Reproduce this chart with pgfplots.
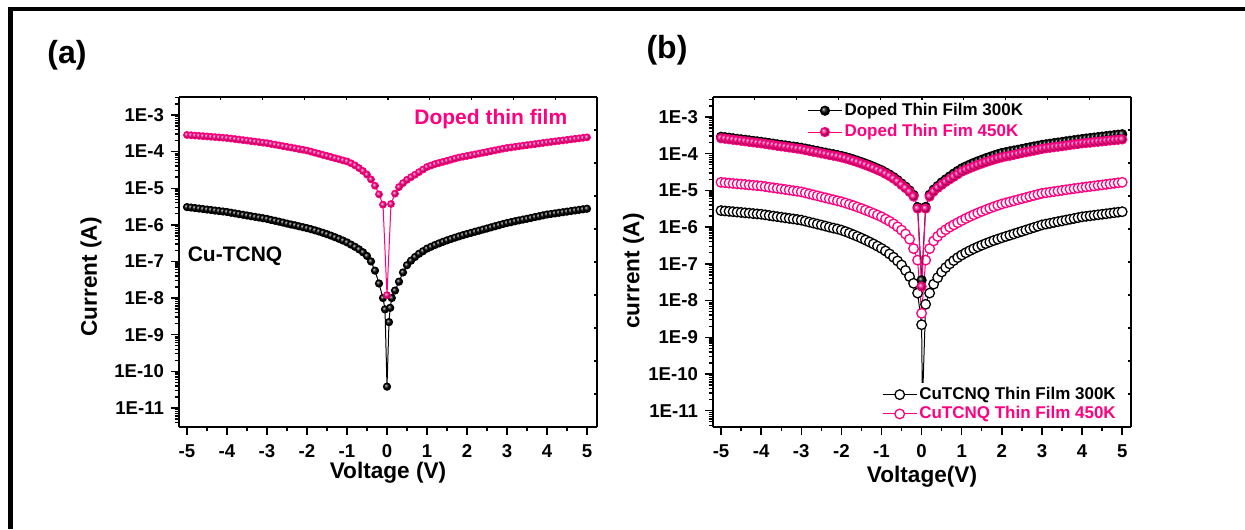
\documentclass[border=0pt]{standalone}
\usepackage{fontspec}
\setmainfont{Liberation Sans}
\usepackage{pgfplots}
\usepackage{pgfplotstable}
\pgfplotsset{compat=1.18}
\definecolor{pk}{RGB}{255,0,128}

% ---------------- data (a) ----------------
\pgfplotstableread[row sep=\\]{V I\\
-5.0 3.05e-6\\ -4.9 2.96e-6\\ -4.8 2.87e-6\\ -4.7 2.78e-6\\ -4.6 2.70e-6\\ -4.5 2.61e-6\\ -4.4 2.54e-6\\ -4.3 2.45e-6\\ -4.2 2.38e-6\\ -4.1 2.31e-6\\
-4.0 2.24e-6\\ -3.9 2.14e-6\\ -3.8 2.05e-6\\ -3.7 1.96e-6\\ -3.6 1.88e-6\\ -3.5 1.80e-6\\ -3.4 1.72e-6\\ -3.3 1.65e-6\\ -3.2 1.58e-6\\ -3.1 1.51e-6\\
-3.0 1.45e-6\\ -2.9 1.36e-6\\ -2.8 1.29e-6\\ -2.7 1.22e-6\\ -2.6 1.15e-6\\ -2.5 1.08e-6\\ -2.4 1.02e-6\\ -2.3 9.7e-7\\ -2.2 9.1e-7\\ -2.1 8.6e-7\\
-2.0 8.1e-7\\ -1.9 7.6e-7\\ -1.8 7.06e-7\\ -1.7 6.55e-7\\ -1.6 6.04e-7\\ -1.5 5.55e-7\\ -1.4 5.06e-7\\ -1.3 4.59e-7\\ -1.2 4.14e-7\\ -1.1 3.72e-7\\
-1.0 3.31e-7\\ -0.9 2.88e-7\\ -0.8 2.51e-7\\ -0.7 2.14e-7\\ -0.6 1.78e-7\\ -0.5 1.41e-7\\ -0.4 1.0e-7\\ -0.3 5.6e-8\\ -0.2 2.5e-8\\ -0.1 1.0e-8\\
-0.05 4.9e-9\\ 0.0 3.8e-11\\ 0.05 2.2e-9\\ 0.08 5.4e-9\\ 0.12 1.0e-8\\ 0.2 1.6e-8\\ 0.3 2.8e-8\\ 0.4 5.0e-8\\ 0.5 7.9e-8\\ 0.6 1.05e-7\\
0.7 1.32e-7\\ 0.8 1.62e-7\\ 0.9 1.9e-7\\ 1.0 2.24e-7\\ 1.1 2.51e-7\\ 1.2 2.81e-7\\ 1.3 3.11e-7\\ 1.4 3.43e-7\\ 1.5 3.76e-7\\ 1.6 4.10e-7\\
1.7 4.46e-7\\ 1.8 4.83e-7\\ 1.9 5.22e-7\\ 2.0 5.62e-7\\ 2.1 6.03e-7\\ 2.2 6.46e-7\\ 2.3 6.92e-7\\ 2.4 7.41e-7\\ 2.5 7.94e-7\\ 2.6 8.51e-7\\
2.7 9.12e-7\\ 2.8 9.77e-7\\ 2.9 1.05e-6\\ 3.0 1.12e-6\\ 3.1 1.18e-6\\ 3.2 1.25e-6\\ 3.3 1.32e-6\\ 3.4 1.39e-6\\ 3.5 1.46e-6\\ 3.6 1.54e-6\\
3.7 1.63e-6\\ 3.8 1.71e-6\\ 3.9 1.81e-6\\ 4.0 1.91e-6\\ 4.1 1.98e-6\\ 4.2 2.05e-6\\ 4.3 2.13e-6\\ 4.4 2.21e-6\\ 4.5 2.29e-6\\ 4.6 2.38e-6\\
4.7 2.47e-6\\ 4.8 2.56e-6\\ 4.9 2.65e-6\\ 5.0 2.75e-6\\
}\tAcu

\pgfplotstableread[row sep=\\]{V I\\
-5.0 2.85e-4\\ -4.9 2.80e-4\\ -4.8 2.74e-4\\ -4.7 2.69e-4\\ -4.6 2.64e-4\\ -4.5 2.59e-4\\ -4.4 2.54e-4\\ -4.3 2.49e-4\\ -4.2 2.44e-4\\ -4.1 2.39e-4\\
-4.0 2.34e-4\\ -3.9 2.27e-4\\ -3.8 2.20e-4\\ -3.7 2.13e-4\\ -3.6 2.06e-4\\ -3.5 2.00e-4\\ -3.4 1.93e-4\\ -3.3 1.87e-4\\ -3.2 1.81e-4\\ -3.1 1.75e-4\\
-3.0 1.70e-4\\ -2.9 1.62e-4\\ -2.8 1.55e-4\\ -2.7 1.48e-4\\ -2.6 1.41e-4\\ -2.5 1.35e-4\\ -2.4 1.29e-4\\ -2.3 1.23e-4\\ -2.2 1.17e-4\\ -2.1 1.12e-4\\
-2.0 1.07e-4\\ -1.9 1.00e-4\\ -1.8 9.3e-5\\ -1.7 8.7e-5\\ -1.6 8.1e-5\\ -1.5 7.6e-5\\ -1.4 7.1e-5\\ -1.3 6.6e-5\\ -1.2 6.2e-5\\ -1.1 5.75e-5\\
-1.0 5.4e-5\\ -0.9 4.8e-5\\ -0.8 4.2e-5\\ -0.7 3.55e-5\\ -0.6 2.95e-5\\ -0.5 2.35e-5\\ -0.4 1.74e-5\\ -0.3 1.17e-5\\ -0.2 6.8e-6\\ -0.1 3.55e-6\\
0.0 1.2e-8\\ 0.1 3.7e-6\\ 0.2 7.1e-6\\ 0.3 1.07e-5\\ 0.4 1.38e-5\\ 0.5 1.70e-5\\ 0.6 2.0e-5\\ 0.7 2.34e-5\\ 0.8 2.75e-5\\ 0.9 3.24e-5\\
1.0 3.8e-5\\ 1.1 4.17e-5\\ 1.2 4.57e-5\\ 1.3 4.9e-5\\ 1.4 5.25e-5\\ 1.5 5.6e-5\\ 1.6 6.0e-5\\ 1.7 6.45e-5\\ 1.8 6.9e-5\\ 1.9 7.25e-5\\
2.0 7.6e-5\\ 2.1 7.98e-5\\ 2.2 8.4e-5\\ 2.3 8.83e-5\\ 2.4 9.3e-5\\ 2.5 9.77e-5\\ 2.6 1.03e-4\\ 2.7 1.08e-4\\ 2.8 1.14e-4\\ 2.9 1.20e-4\\
3.0 1.26e-4\\ 3.1 1.30e-4\\ 3.2 1.35e-4\\ 3.3 1.40e-4\\ 3.4 1.45e-4\\ 3.5 1.50e-4\\ 3.6 1.55e-4\\ 3.7 1.60e-4\\ 3.8 1.66e-4\\ 3.9 1.72e-4\\
4.0 1.78e-4\\ 4.1 1.84e-4\\ 4.2 1.90e-4\\ 4.3 1.96e-4\\ 4.4 2.02e-4\\ 4.5 2.09e-4\\ 4.6 2.16e-4\\ 4.7 2.23e-4\\ 4.8 2.30e-4\\ 4.9 2.38e-4\\
5.0 2.45e-4\\
}\tAdop

% ---------------- data (b) ----------------
\pgfplotstableread[row sep=\\]{V I\\
-5.0 2.89e-4\\ -4.9 2.81e-4\\ -4.8 2.72e-4\\ -4.7 2.63e-4\\ -4.6 2.54e-4\\ -4.5 2.46e-4\\ -4.4 2.39e-4\\ -4.3 2.31e-4\\ -4.2 2.23e-4\\ -4.1 2.17e-4\\
-4.0 2.10e-4\\ -3.9 2.02e-4\\ -3.8 1.95e-4\\ -3.7 1.88e-4\\ -3.6 1.80e-4\\ -3.5 1.74e-4\\ -3.4 1.68e-4\\ -3.3 1.62e-4\\ -3.2 1.56e-4\\ -3.1 1.51e-4\\
-3.0 1.45e-4\\ -2.9 1.38e-4\\ -2.8 1.31e-4\\ -2.7 1.24e-4\\ -2.6 1.19e-4\\ -2.5 1.12e-4\\ -2.4 1.07e-4\\ -2.3 1.01e-4\\ -2.2 9.7e-5\\ -2.1 9.2e-5\\
-2.0 8.7e-5\\ -1.9 8.15e-5\\ -1.8 7.58e-5\\ -1.7 7.0e-5\\ -1.6 6.45e-5\\ -1.5 5.9e-5\\ -1.4 5.39e-5\\ -1.3 4.9e-5\\ -1.2 4.42e-5\\ -1.1 3.97e-5\\
-1.0 3.56e-5\\ -0.9 3.1e-5\\ -0.8 2.7e-5\\ -0.7 2.3e-5\\ -0.6 1.91e-5\\ -0.5 1.55e-5\\ -0.4 1.27e-5\\ -0.3 1.0e-5\\ -0.2 7.5e-6\\ -0.1 3.5e-6\\
0.0 3.6e-8\\ 0.1 3.55e-6\\ 0.2 7.6e-6\\ 0.3 1.05e-5\\ 0.4 1.32e-5\\ 0.5 1.66e-5\\ 0.6 2.0e-5\\ 0.7 2.4e-5\\ 0.8 2.88e-5\\ 0.9 3.39e-5\\
1.0 3.98e-5\\ 1.1 4.49e-5\\ 1.2 5.04e-5\\ 1.3 5.61e-5\\ 1.4 6.22e-5\\ 1.5 6.85e-5\\ 1.6 7.52e-5\\ 1.7 8.2e-5\\ 1.8 8.93e-5\\ 1.9 9.68e-5\\
2.0 1.05e-4\\ 2.1 1.10e-4\\ 2.2 1.16e-4\\ 2.3 1.22e-4\\ 2.4 1.28e-4\\ 2.5 1.35e-4\\ 2.6 1.42e-4\\ 2.7 1.49e-4\\ 2.8 1.57e-4\\ 2.9 1.65e-4\\
3.0 1.74e-4\\ 3.1 1.80e-4\\ 3.2 1.87e-4\\ 3.3 1.94e-4\\ 3.4 2.01e-4\\ 3.5 2.09e-4\\ 3.6 2.17e-4\\ 3.7 2.25e-4\\ 3.8 2.33e-4\\ 3.9 2.42e-4\\
4.0 2.51e-4\\ 4.1 2.59e-4\\ 4.2 2.67e-4\\ 4.3 2.75e-4\\ 4.4 2.83e-4\\ 4.5 2.92e-4\\ 4.6 3.01e-4\\ 4.7 3.10e-4\\ 4.8 3.19e-4\\ 4.9 3.29e-4\\
5.0 3.39e-4\\
}\tBdopA

\pgfplotstableread[row sep=\\]{V I\\
-5.0 2.63e-4\\ -4.9 2.55e-4\\ -4.8 2.47e-4\\ -4.7 2.39e-4\\ -4.6 2.31e-4\\ -4.5 2.24e-4\\ -4.4 2.17e-4\\ -4.3 2.10e-4\\ -4.2 2.03e-4\\ -4.1 1.97e-4\\
-4.0 1.91e-4\\ -3.9 1.84e-4\\ -3.8 1.77e-4\\ -3.7 1.71e-4\\ -3.6 1.64e-4\\ -3.5 1.58e-4\\ -3.4 1.53e-4\\ -3.3 1.47e-4\\ -3.2 1.42e-4\\ -3.1 1.37e-4\\
-3.0 1.32e-4\\ -2.9 1.25e-4\\ -2.8 1.19e-4\\ -2.7 1.13e-4\\ -2.6 1.08e-4\\ -2.5 1.02e-4\\ -2.4 9.7e-5\\ -2.3 9.2e-5\\ -2.2 8.8e-5\\ -2.1 8.4e-5\\
-2.0 7.9e-5\\ -1.9 7.41e-5\\ -1.8 6.89e-5\\ -1.7 6.37e-5\\ -1.6 5.86e-5\\ -1.5 5.37e-5\\ -1.4 4.90e-5\\ -1.3 4.45e-5\\ -1.2 4.02e-5\\ -1.1 3.61e-5\\
-1.0 3.24e-5\\ -0.9 2.82e-5\\ -0.8 2.45e-5\\ -0.7 2.09e-5\\ -0.6 1.74e-5\\ -0.5 1.41e-5\\ -0.4 1.15e-5\\ -0.3 9.1e-6\\ -0.2 6.8e-6\\ -0.1 3.2e-6\\
0.0 2.4e-8\\ 0.1 3.2e-6\\ 0.2 6.8e-6\\ 0.3 9.3e-6\\ 0.4 1.17e-5\\ 0.5 1.41e-5\\ 0.6 1.70e-5\\ 0.7 2.0e-5\\ 0.8 2.34e-5\\ 0.9 2.75e-5\\
1.0 3.24e-5\\ 1.1 3.61e-5\\ 1.2 4.02e-5\\ 1.3 4.45e-5\\ 1.4 4.90e-5\\ 1.5 5.37e-5\\ 1.6 5.86e-5\\ 1.7 6.37e-5\\ 1.8 6.89e-5\\ 1.9 7.41e-5\\
2.0 7.9e-5\\ 2.1 8.4e-5\\ 2.2 8.8e-5\\ 2.3 9.3e-5\\ 2.4 9.8e-5\\ 2.5 1.04e-4\\ 2.6 1.09e-4\\ 2.7 1.15e-4\\ 2.8 1.21e-4\\ 2.9 1.28e-4\\
3.0 1.35e-4\\ 3.1 1.40e-4\\ 3.2 1.45e-4\\ 3.3 1.50e-4\\ 3.4 1.55e-4\\ 3.5 1.60e-4\\ 3.6 1.66e-4\\ 3.7 1.72e-4\\ 3.8 1.78e-4\\ 3.9 1.84e-4\\
4.0 1.91e-4\\ 4.1 1.95e-4\\ 4.2 2.0e-4\\ 4.3 2.06e-4\\ 4.4 2.11e-4\\ 4.5 2.16e-4\\ 4.6 2.22e-4\\ 4.7 2.28e-4\\ 4.8 2.33e-4\\ 4.9 2.39e-4\\
5.0 2.45e-4\\
}\tBdopB

\pgfplotstableread[row sep=\\]{V I\\
-5.0 2.82e-6\\ -4.9 2.75e-6\\ -4.8 2.69e-6\\ -4.7 2.63e-6\\ -4.6 2.57e-6\\ -4.5 2.51e-6\\ -4.4 2.45e-6\\ -4.3 2.40e-6\\ -4.2 2.34e-6\\ -4.1 2.29e-6\\
-4.0 2.24e-6\\ -3.9 2.16e-6\\ -3.8 2.08e-6\\ -3.7 2.00e-6\\ -3.6 1.93e-6\\ -3.5 1.86e-6\\ -3.4 1.79e-6\\ -3.3 1.73e-6\\ -3.2 1.67e-6\\ -3.1 1.61e-6\\
-3.0 1.55e-6\\ -2.9 1.46e-6\\ -2.8 1.37e-6\\ -2.7 1.29e-6\\ -2.6 1.21e-6\\ -2.5 1.14e-6\\ -2.4 1.07e-6\\ -2.3 1.00e-6\\ -2.2 9.4e-7\\ -2.1 8.9e-7\\
-2.0 8.3e-7\\ -1.9 7.59e-7\\ -1.8 6.89e-7\\ -1.7 6.22e-7\\ -1.6 5.6e-7\\ -1.5 5.01e-7\\ -1.4 4.47e-7\\ -1.3 3.95e-7\\ -1.2 3.48e-7\\ -1.1 3.04e-7\\
-1.0 2.63e-7\\ -0.9 2.24e-7\\ -0.8 1.86e-7\\ -0.7 1.51e-7\\ -0.6 1.20e-7\\ -0.5 9.3e-8\\ -0.4 6.6e-8\\ -0.3 4.5e-8\\ -0.2 2.95e-8\\ -0.1 1.6e-8\\
0.0 2.2e-9\\ 0.02 1.5e-11\\ 0.1 7.9e-9\\ 0.2 1.6e-8\\ 0.3 2.8e-8\\ 0.4 4.2e-8\\ 0.5 6.0e-8\\ 0.6 7.9e-8\\ 0.7 1.0e-7\\ 0.8 1.23e-7\\ 0.9 1.48e-7\\
1.0 1.74e-7\\ 1.1 2.0e-7\\ 1.2 2.28e-7\\ 1.3 2.58e-7\\ 1.4 2.89e-7\\ 1.5 3.22e-7\\ 1.6 3.57e-7\\ 1.7 3.94e-7\\ 1.8 4.32e-7\\ 1.9 4.71e-7\\
2.0 5.13e-7\\ 2.1 5.56e-7\\ 2.2 6.03e-7\\ 2.3 6.53e-7\\ 2.4 7.08e-7\\ 2.5 7.67e-7\\ 2.6 8.32e-7\\ 2.7 9.02e-7\\ 2.8 9.77e-7\\ 2.9 1.06e-6\\
3.0 1.15e-6\\ 3.1 1.21e-6\\ 3.2 1.27e-6\\ 3.3 1.34e-6\\ 3.4 1.41e-6\\ 3.5 1.48e-6\\ 3.6 1.56e-6\\ 3.7 1.64e-6\\ 3.8 1.72e-6\\ 3.9 1.81e-6\\
4.0 1.91e-6\\ 4.1 1.97e-6\\ 4.2 2.03e-6\\ 4.3 2.10e-6\\ 4.4 2.17e-6\\ 4.5 2.24e-6\\ 4.6 2.31e-6\\ 4.7 2.39e-6\\ 4.8 2.47e-6\\ 4.9 2.55e-6\\
5.0 2.63e-6\\
}\tBcuA

\pgfplotstableread[row sep=\\]{V I\\
-5.0 1.66e-5\\ -4.9 1.62e-5\\ -4.8 1.58e-5\\ -4.7 1.55e-5\\ -4.6 1.51e-5\\ -4.5 1.48e-5\\ -4.4 1.45e-5\\ -4.3 1.41e-5\\ -4.2 1.38e-5\\ -4.1 1.35e-5\\
-4.0 1.32e-5\\ -3.9 1.27e-5\\ -3.8 1.22e-5\\ -3.7 1.18e-5\\ -3.6 1.14e-5\\ -3.5 1.10e-5\\ -3.4 1.06e-5\\ -3.3 1.02e-5\\ -3.2 9.8e-6\\ -3.1 9.5e-6\\
-3.0 9.1e-6\\ -2.9 8.57e-6\\ -2.8 8.05e-6\\ -2.7 7.57e-6\\ -2.6 7.11e-6\\ -2.5 6.68e-6\\ -2.4 6.28e-6\\ -2.3 5.90e-6\\ -2.2 5.55e-6\\ -2.1 5.21e-6\\
-2.0 4.90e-6\\ -1.9 4.54e-6\\ -1.8 4.19e-6\\ -1.7 3.85e-6\\ -1.6 3.52e-6\\ -1.5 3.21e-6\\ -1.4 2.91e-6\\ -1.3 2.63e-6\\ -1.2 2.37e-6\\ -1.1 2.13e-6\\
-1.0 1.91e-6\\ -0.9 1.66e-6\\ -0.8 1.45e-6\\ -0.7 1.23e-6\\ -0.6 1.02e-6\\ -0.5 8.3e-7\\ -0.4 6.5e-7\\ -0.3 4.7e-7\\ -0.2 2.6e-7\\ -0.1 1.26e-7\\
0.0 4.5e-9\\ 0.1 1.26e-7\\ 0.2 2.6e-7\\ 0.3 4.2e-7\\ 0.4 5.6e-7\\ 0.5 7.1e-7\\ 0.6 8.5e-7\\ 0.7 1.0e-6\\ 0.8 1.15e-6\\ 0.9 1.32e-6\\
1.0 1.51e-6\\ 1.1 1.72e-6\\ 1.2 1.94e-6\\ 1.3 2.17e-6\\ 1.4 2.42e-6\\ 1.5 2.69e-6\\ 1.6 2.96e-6\\ 1.7 3.27e-6\\ 1.8 3.58e-6\\ 1.9 3.92e-6\\
2.0 4.27e-6\\ 2.1 4.56e-6\\ 2.2 4.88e-6\\ 2.3 5.21e-6\\ 2.4 5.57e-6\\ 2.5 5.96e-6\\ 2.6 6.37e-6\\ 2.7 6.81e-6\\ 2.8 7.28e-6\\ 2.9 7.78e-6\\
3.0 8.32e-6\\ 3.1 8.63e-6\\ 3.2 8.95e-6\\ 3.3 9.29e-6\\ 3.4 9.64e-6\\ 3.5 1.0e-5\\ 3.6 1.04e-5\\ 3.7 1.08e-5\\ 3.8 1.12e-5\\ 3.9 1.16e-5\\
4.0 1.20e-5\\ 4.1 1.24e-5\\ 4.2 1.28e-5\\ 4.3 1.32e-5\\ 4.4 1.37e-5\\ 4.5 1.41e-5\\ 4.6 1.46e-5\\ 4.7 1.51e-5\\ 4.8 1.56e-5\\ 4.9 1.61e-5\\
5.0 1.66e-5\\
}\tBcuB

\pgfplotsset{
  ivbase/.style={
    scale only axis, width=209pt, height=165pt,
    axis x line*=bottom, axis y line*=left,
    axis line style={line width=0.9pt},
    tick align=outside,
    xtick={-5,-4,-3,-2,-1,0,1,2,3,4,5},
    xticklabels={-5,-4,-3,-2,-1,0,1,2,3,4,5},
    minor xtick={-4.5,-3.5,-2.5,-1.5,-0.5,0.5,1.5,2.5,3.5,4.5},
    major tick length=4pt, minor tick length=2.2pt,
    tick style={black, line width=0.7pt},
    tick label style={font=\fontsize{9.3}{10}\selectfont\bfseries},
    xticklabel style={yshift=-1.2pt},
    label style={font=\fontsize{11.3}{13}\selectfont\bfseries},
  },
  frameticks/.style={
    scale only axis, width=209pt, height=165pt,
    xmin=0, xmax=10, ymin=0, ymax=10,
    axis x line*=top, axis y line*=right,
    axis line style={line width=0.6pt},
    xtick={0,1,2,3,4,5,6,7,8,9,10}, ytick={0,1,2,3,4,5,6,7,8,9,10},
    xticklabels={}, yticklabels={},
    tick align=inside, major tick length=1.6pt,
    tick style={black, line width=0.6pt},
  },
}
\newcommand{\YT}{1e-11,1e-10,1e-9,1e-8,1e-7,1e-6,1e-5,1e-4,1e-3}
\newcommand{\YTL}{1E-11,1E-10,1E-9,1E-8,1E-7,1E-6,1E-5,1E-4,1E-3}
\newcommand{\YM}{4e-12,5e-12,6e-12,7e-12,8e-12,9e-12,
      2e-11,3e-11,4e-11,5e-11,6e-11,7e-11,8e-11,9e-11,
      2e-10,3e-10,4e-10,5e-10,6e-10,7e-10,8e-10,9e-10,
      2e-9,3e-9,4e-9,5e-9,6e-9,7e-9,8e-9,9e-9,
      2e-8,3e-8,4e-8,5e-8,6e-8,7e-8,8e-8,9e-8,
      2e-7,3e-7,4e-7,5e-7,6e-7,7e-7,8e-7,9e-7,
      2e-6,3e-6,4e-6,5e-6,6e-6,7e-6,8e-6,9e-6,
      2e-5,3e-5,4e-5,5e-5,6e-5,7e-5,8e-5,9e-5,
      2e-4,3e-4,4e-4,5e-4,6e-4,7e-4,8e-4,9e-4,
      2e-3,3e-3}

\begin{document}
\begin{tikzpicture}
\path[use as bounding box] (0,0) rectangle (622.5pt,264.5pt);
\draw[line width=1.7pt] (4.2pt,260pt) -- (622.5pt,260pt);
\draw[line width=2.2pt] (5.25pt,260.85pt) -- (5.25pt,0pt);
\node[font=\fontsize{16}{18}\selectfont\bfseries] at (33.5pt,237pt) {(a)};
\node[font=\fontsize{16}{18}\selectfont\bfseries] at (333.5pt,239.5pt) {(b)};

% ---------- panel (a) ----------
\begin{axis}[ivbase, ymode=log, at={(89.5pt,51pt)}, anchor=south west,
  xmin=-5.2, xmax=5.25, ymin=3.0e-12, ymax=3.1e-3,
  ytick/.expanded={\YT}, yticklabels/.expanded={\YTL}, minor ytick/.expanded={\YM},
  xlabel={Voltage (V)}, ylabel={Current (A)},
  xlabel style={at={(axis description cs:0.5,-0.139)}, anchor=center},
  ylabel style={at={(axis description cs:-0.2105,0.4545)}, anchor=center}]
\addplot[black, line width=0.5pt, mark=ball, mark size=1.8pt, mark options={ball color=black}] table[x=V,y=I]{\tAcu};
\addplot[pk, line width=0.5pt, mark=ball, mark size=1.7pt, mark options={ball color=pk}] table[x=V,y=I]{\tAdop};
\node[text=pk, font=\fontsize{10.5}{12}\selectfont\bfseries] at (rel axis cs:0.746,0.933) {Doped thin film};
\node[font=\fontsize{10.5}{12}\selectfont\bfseries] at (rel axis cs:0.134,0.518) {Cu-TCNQ};
\end{axis}
\begin{axis}[frameticks, at={(89.5pt,51pt)}, anchor=south west]
\end{axis}

% ---------- panel (b) ----------
\begin{axis}[ivbase, ymode=log, at={(356.5pt,51pt)}, anchor=south west,
  xmin=-5.2, xmax=5.22, ymin=3.6e-12, ymax=3.5e-3,
  ytick/.expanded={\YT}, yticklabels/.expanded={\YTL}, minor ytick/.expanded={\YM},
  xlabel={Voltage(V)}, ylabel={current (A)},
  xlabel style={at={(axis description cs:0.5,-0.152)}, anchor=center},
  ylabel style={at={(axis description cs:-0.19,0.473)}, anchor=center},
  legend cell align=left,
  legend style={at={(0.974,0.003)}, anchor=south east, draw=none, fill=white,
    font=\fontsize{8.5}{10}\selectfont\bfseries, row sep=0pt, inner sep=1pt,
    nodes={inner sep=1pt}}]
\addplot[black, line width=0.5pt, mark=*, mark size=2.4pt, mark options={fill=white, draw=black, line width=0.65pt}] table[x=V,y=I]{\tBcuA};
\addlegendentry{CuTCNQ Thin Film 300K}
\addplot[pk, line width=0.5pt, mark=*, mark size=2.4pt, mark options={fill=white, draw=pk, line width=0.65pt}] table[x=V,y=I]{\tBcuB};
\addlegendentry{\textcolor{pk}{CuTCNQ Thin Film 450K}}
\end{axis}
\begin{axis}[scale only axis, width=209pt, height=165pt, hide axis,
  at={(356.5pt,51pt)}, anchor=south west,
  ymode=log, xmin=-5.2, xmax=5.22, ymin=3.6e-12, ymax=3.5e-3,
  legend cell align=left,
  legend style={at={(0.22,0.995)}, anchor=north west, draw=none, fill=none,
    font=\fontsize{8.5}{10}\selectfont\bfseries, row sep=1pt, inner sep=1pt,
    nodes={inner sep=1pt}}]
\addplot[black, line width=0.5pt, mark=ball, mark size=2.3pt, mark options={ball color=black}] table[x=V,y=I]{\tBdopA};
\addlegendentry{Doped Thin Film 300K}
\addplot[pk, line width=0.5pt, mark=ball, mark size=2.3pt, mark options={ball color=pk}] table[x=V,y=I]{\tBdopB};
\addlegendentry{\textcolor{pk}{Doped Thin Fim 450K}}
\end{axis}
\begin{axis}[frameticks, at={(356.5pt,51pt)}, anchor=south west]
\end{axis}
\end{tikzpicture}
\end{document}
